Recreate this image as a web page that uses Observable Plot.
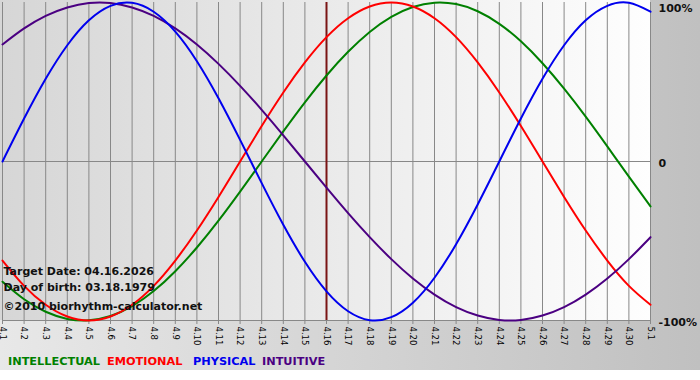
<!DOCTYPE html>
<html><head><meta charset="utf-8">
<script src="https://cdn.jsdelivr.net/npm/d3@7"></script>
<script src="https://cdn.jsdelivr.net/npm/@observablehq/plot@0.6"></script>
<style>
body{margin:0;background:#fff;}
#wrap{position:relative;width:700px;height:370px;background:linear-gradient(to right,#e8e8e8,#c0c0c0);font-family:"DejaVu Sans",Verdana,sans-serif;}
#area{position:absolute;left:0;top:0;width:650px;height:320px;background:linear-gradient(to right,#d6d6d6,#fefefe);}
#chart{position:absolute;left:0;top:0;}
#legend span{position:absolute;top:355px;font-weight:bold;font-size:11.3px;line-height:14px;white-space:nowrap;}
</style></head><body>
<div id="wrap"><div id="area"></div><div id="chart"></div><div id="legend"></div></div>
<script>
const dayLabels = ["4.1","4.2","4.3","4.4","4.5","4.6","4.7","4.8","4.9","4.10","4.11","4.12","4.13","4.14","4.15","4.16","4.17","4.18","4.19","4.20","4.21","4.22","4.23","4.24","4.25","4.26","4.27","4.28","4.29","4.30","5.1"];
const days = dayLabels.map((_, i) => i + 1);
const targetDay = 16;
const intellectual = [-0.756,-0.866,-0.945,-0.990,-0.999,-0.972,-0.910,-0.815,-0.690,-0.541,-0.372,-0.189,0,0.189,0.372,0.541,0.690,0.815,0.910,0.972,0.999,0.990,0.945,0.866,0.756,0.618,0.458,0.282,0.095,-0.095,-0.282];
const emotional = [-0.623,-0.782,-0.901,-0.975,-1,-0.975,-0.901,-0.782,-0.623,-0.434,-0.223,0,0.223,0.434,0.623,0.782,0.901,0.975,1,0.975,0.901,0.782,0.623,0.434,0.223,0,-0.223,-0.434,-0.623,-0.782,-0.901];
const physical = [0,0.270,0.520,0.731,0.888,0.979,0.998,0.942,0.817,0.631,0.398,0.136,-0.136,-0.398,-0.631,-0.817,-0.942,-0.998,-0.979,-0.888,-0.731,-0.520,-0.270,0,0.270,0.520,0.731,0.888,0.979,0.998,0.942];
const intuitive = [0.736,0.837,0.916,0.969,0.997,0.997,0.969,0.916,0.837,0.736,0.614,0.476,0.325,0.165,0,-0.165,-0.325,-0.476,-0.614,-0.736,-0.837,-0.916,-0.969,-0.997,-0.997,-0.969,-0.916,-0.837,-0.736,-0.614,-0.476];
const seriesNames = ["INTELLECTUAL","EMOTIONAL","PHYSICAL","INTUITIVE"];
const seriesColors = ["#008000","#ff0000","#0000ee","#4b0082"];
const yLabels = [{v:1,t:"100%"},{v:0,t:"0"},{v:-1,t:"-100%"}];
const infoLines = ["Target Date: 04.16.2026","Day of birth: 03.18.1979","©2010 biorhythm-calculator.net"];

const seriesVals = [intellectual, emotional, physical, intuitive];
const rows = [];
seriesVals.forEach((arr, s) => arr.forEach((v, i) => rows.push({s: seriesNames[s], d: days[i], v})));
const drawOrder = ["INTELLECTUAL","EMOTIONAL","INTUITIVE","PHYSICAL"];
const infoDy = [-49, -33, -14];

const font = '"DejaVu Sans", Verdana, sans-serif';
const chart = Plot.plot({
  width: 700, height: 370,
  marginLeft: 2, marginRight: 50, marginTop: 2, marginBottom: 50,
  style: {background: "transparent", overflow: "visible", fontFamily: font},
  x: {domain: [1, 31], axis: null},
  y: {domain: [-1, 1], axis: null},
  marks: [
    Plot.ruleX(days, {stroke: "#888", strokeOpacity: 1, y1: -1, y2: 1}),
    Plot.ruleY([0, -1], {stroke: "#888", strokeOpacity: 1}),
    Plot.axisX({ticks: days, tickFormat: d => dayLabels[d - 1], tickRotate: 90, tickSize: 4, tickPadding: 2, fontSize: 8.5, stroke: "#888", strokeOpacity: 1, fill: "#000", label: null}),
    Plot.ruleX([targetDay], {stroke: "#7a1414", strokeWidth: 2, y1: -1, y2: 1}),
    ...drawOrder.map(name => Plot.line(rows.filter(r => r.s === name), {x: "d", y: "v", stroke: seriesColors[seriesNames.indexOf(name)], strokeWidth: 2, curve: "natural"})),
    Plot.text(yLabels.filter(d => d.v === 1), {y: "v", text: "t", frameAnchor: "right", textAnchor: "start", dx: 8, dy: 6, fontWeight: "bold", fontSize: 11, fill: "#111"}),
    Plot.text(yLabels.filter(d => d.v !== 1), {y: "v", text: "t", frameAnchor: "right", textAnchor: "start", dx: 8, dy: 2, fontWeight: "bold", fontSize: 11, fill: "#111"}),
    ...infoLines.map((line, i) => Plot.text([line], {text: d => d, frameAnchor: "bottom-left", textAnchor: "start", lineAnchor: "middle", dx: 1, dy: infoDy[i], fontWeight: "bold", fontSize: 11, fill: "#111"}))
  ]
});
document.getElementById("chart").appendChild(chart);
const legendX = [8, 107, 193, 262];
const legend = document.getElementById("legend");
seriesNames.forEach((n, i) => {
  const s = document.createElement("span");
  s.textContent = n;
  s.style.left = legendX[i] + "px";
  s.style.color = seriesColors[i];
  legend.appendChild(s);
});
</script>
</body></html>
